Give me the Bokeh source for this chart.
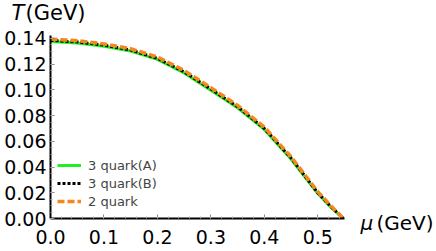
from bokeh.plotting import figure
from bokeh.models import Range1d, Legend, LegendItem, FixedTicker, LinearAxis
from bokeh.embed import file_html
from bokeh.resources import INLINE

mu = [0.0, 0.05, 0.10, 0.15, 0.20, 0.25, 0.30, 0.35, 0.40, 0.45, 0.50, 0.525, 0.548]
T_3qA = [0.1377, 0.1365, 0.1340, 0.1302, 0.1237, 0.1132, 0.0998, 0.0861, 0.0693, 0.0463, 0.0194, 0.0085, 0.0]
T_3qB = [0.1385, 0.1373, 0.1348, 0.1310, 0.1245, 0.1140, 0.1007, 0.0869, 0.0700, 0.0470, 0.0200, 0.0090, 0.0]
T_2q = [0.1395, 0.1383, 0.1358, 0.1320, 0.1256, 0.1151, 0.1018, 0.0880, 0.0711, 0.0480, 0.0209, 0.0097, 0.0]
labels = ["3 quark(A)", "3 quark(B)", "2 quark"]
xticks = [0.0, 0.1, 0.2, 0.3, 0.4, 0.5]
yticks = [0.00, 0.02, 0.04, 0.06, 0.08, 0.10, 0.12, 0.14]

FONT = "DejaVu Sans"

# frame spans the top of the canvas; the axis lines are limited with bounds
p = figure(width=436, height=251, output_backend="svg", toolbar_location=None,
           x_range=Range1d(0, 0.55), y_range=Range1d(0, 0.16952),
           min_border_left=50, min_border_right=89, min_border_top=0, min_border_bottom=33)
p.outline_line_color = None
p.grid.grid_line_color = None

for ax in (p.xaxis[0], p.yaxis[0]):
    ax.axis_line_color = "black"
    ax.axis_line_width = 2
    ax.major_tick_in = 4
    ax.major_tick_out = 0
    ax.minor_tick_in = 2
    ax.minor_tick_out = 0
    ax.major_tick_line_color = "#888888"
    ax.minor_tick_line_color = "#aaaaaa"
    ax.major_label_text_font = FONT
    ax.major_label_text_font_size = "19px"
    ax.major_label_text_color = "black"

p.yaxis[0].bounds = (0, 0.1425)
p.xaxis[0].ticker = FixedTicker(ticks=xticks, minor_ticks=[i * 0.02 for i in range(28)])
p.yaxis[0].ticker = FixedTicker(ticks=yticks, minor_ticks=[i * 0.005 for i in range(29)])
p.xaxis[0].major_label_overrides = {t: f"{t:.1f}" for t in xticks}
p.yaxis[0].major_label_overrides = {t: f"{t:.2f}" for t in yticks}
p.xaxis[0].major_label_standoff = 11
p.yaxis[0].major_label_standoff = 4

rA = p.line(mu, T_3qA, line_color="#22ee22", line_width=3)
rB = p.line(mu, T_3qB, line_color="black", line_width=3, line_dash="3 2")
rC = p.line(mu, T_2q, line_color="#f5871f", line_width=3.5, line_dash="7 3")

legend = Legend(items=[LegendItem(label=labels[0], renderers=[rA]),
                       LegendItem(label=labels[1], renderers=[rB]),
                       LegendItem(label=labels[2], renderers=[rC])],
                location=(7, 8), padding=0, margin=0, spacing=0,
                glyph_width=24, glyph_height=18, label_height=18, label_standoff=7,
                label_text_font=FONT, label_text_font_size="13px",
                background_fill_alpha=0, border_line_color=None)
p.add_layout(legend, "center")


def text_axis(pos, text, standoff, size, italic):
    ax = LinearAxis(ticker=FixedTicker(ticks=[pos], minor_ticks=[]),
                    major_label_overrides={pos: text})
    ax.axis_line_color = None
    ax.major_tick_line_color = None
    ax.minor_tick_line_color = None
    ax.major_tick_in = 0
    ax.major_tick_out = 0
    ax.minor_tick_in = 0
    ax.minor_tick_out = 0
    ax.major_label_standoff = standoff
    ax.major_label_text_font = FONT
    ax.major_label_text_font_size = size
    ax.major_label_text_color = "black"
    ax.major_label_text_font_style = "italic" if italic else "normal"
    p.add_layout(ax, "right")
    return ax


# axis titles carried by text-only axes on the right side
# (the first two take no width: their labels are pulled back over the chart's left)
text_axis(0.1598, "T", -333, "21px", True)
text_axis(0.1598, "(GeV)", -319, "21px", False)
text_axis(0.0078, "\nμ", 16, "20px", True)
text_axis(0.0078, "\n(GeV)", 0, "20px", False)

open("out.html", "w").write(file_html(p, INLINE))
